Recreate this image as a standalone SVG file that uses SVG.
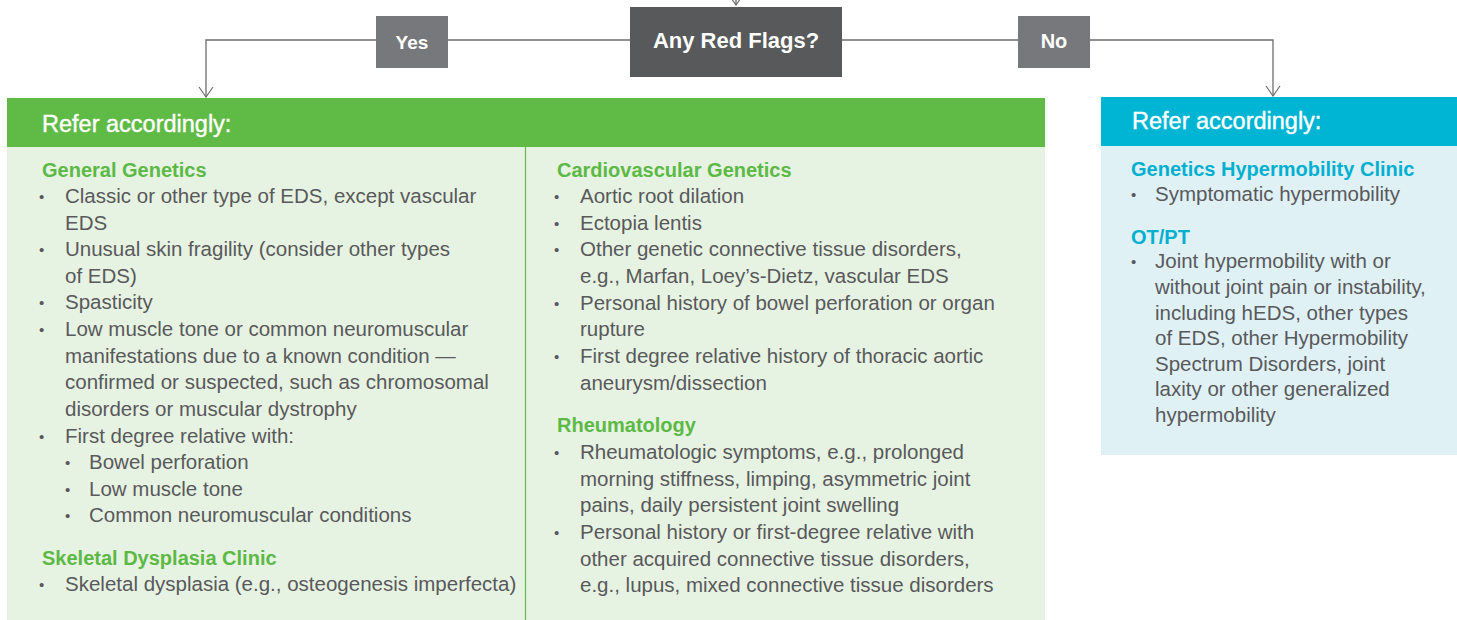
<svg xmlns="http://www.w3.org/2000/svg" width="1457" height="620" viewBox="0 0 1457 620">
<defs>
<marker id="arr" viewBox="0 0 12 16" refX="11" refY="8" markerWidth="12" markerHeight="16" markerUnits="userSpaceOnUse" orient="auto">
<path d="M1,1 L11,8 L1,15" fill="none" stroke="#6d6e71" stroke-width="1.2"/>
</marker>
<style>
.conn{fill:none;stroke:#6d6e71;stroke-width:1.3}
.t{font-family:"Liberation Sans",Arial,sans-serif;font-size:20.5px;fill:#58595b}
.b{font-size:15px}
.hg{font-family:"Liberation Sans",Arial,sans-serif;font-size:20px;font-weight:700;fill:#5cb946}
.hb{font-family:"Liberation Sans",Arial,sans-serif;font-size:20px;font-weight:700;fill:#00b0d0}
.hdr{font-family:"Liberation Sans",Arial,sans-serif;font-size:23.5px;fill:#ffffff;stroke:#ffffff;stroke-width:0.4}
.lbl{font-family:"Liberation Sans",Arial,sans-serif;font-size:21px;font-weight:700;fill:#ffffff;text-anchor:middle}
</style>
</defs>
<rect width="1457" height="620" fill="#ffffff"/>
<g id="connectors">
<path class="conn" d="M736,-6 V5" marker-end="url(#arr)"/>
<path class="conn" d="M630,40 H448"/>
<path class="conn" d="M376,40 H206 V97" marker-end="url(#arr)"/>
<path class="conn" d="M842,40 H1018"/>
<path class="conn" d="M1090,40 H1273 V96" marker-end="url(#arr)"/>
</g>
<g id="red-flags">
<rect x="630" y="7" width="212" height="70" fill="#58595b"/>
<text class="lbl" x="736" y="48" style="font-size:22px">Any Red Flags?</text>
</g>
<g id="yes">
<rect x="376" y="16" width="72" height="52" fill="#77787b"/>
<text class="lbl" x="412" y="49" style="font-size:19px">Yes</text>
</g>
<g id="no">
<rect x="1018" y="16" width="72" height="52" fill="#77787b"/>
<text class="lbl" x="1054" y="48" style="font-size:20px">No</text>
</g>
<g id="refer-yes">
<rect x="7" y="98" width="1038" height="49" fill="#5fba46"/>
<rect x="7" y="147" width="1038" height="473" fill="#e7f3e2"/>
<line x1="525.5" y1="147" x2="525.5" y2="620" stroke="#5fba46" stroke-width="1.2"/>
<text class="hdr" x="42" y="132">Refer accordingly:</text>
<g id="general-genetics">
<text class="hg" x="42" y="177">General Genetics</text>
<g class="t">
<text class="b" x="39" y="202">•</text><text x="65" y="203">Classic or other type of EDS, except vascular</text>
<text x="65" y="230">EDS</text>
<text class="b" x="39" y="255">•</text><text x="65" y="256">Unusual skin fragility (consider other types</text>
<text x="65" y="283">of EDS)</text>
<text class="b" x="39" y="308">•</text><text x="65" y="309">Spasticity</text>
<text class="b" x="39" y="335">•</text><text x="65" y="336">Low muscle tone or common neuromuscular</text>
<text x="65" y="363">manifestations due to a known condition —</text>
<text x="65" y="389">confirmed or suspected, such as chromosomal</text>
<text x="65" y="416">disorders or muscular dystrophy</text>
<text class="b" x="39" y="442">•</text><text x="65" y="443">First degree relative with:</text>
<text class="b" x="65" y="468">•</text><text x="89" y="469">Bowel perforation</text>
<text class="b" x="65" y="495">•</text><text x="89" y="496">Low muscle tone</text>
<text class="b" x="65" y="521">•</text><text x="89" y="522">Common neuromuscular conditions</text>
</g>
</g>
<g id="skeletal-dysplasia">
<text class="hg" x="42" y="565">Skeletal Dysplasia Clinic</text>
<g class="t">
<text class="b" x="39" y="590">•</text><text x="65" y="591">Skeletal dysplasia (e.g., osteogenesis imperfecta)</text>
</g>
</g>
<g id="cardiovascular-genetics">
<text class="hg" x="557" y="177">Cardiovascular Genetics</text>
<g class="t">
<text class="b" x="554" y="202">•</text><text x="580" y="203">Aortic root dilation</text>
<text class="b" x="554" y="229">•</text><text x="580" y="230">Ectopia lentis</text>
<text class="b" x="554" y="255">•</text><text x="580" y="256">Other genetic connective tissue disorders,</text>
<text x="580" y="283">e.g., Marfan, Loey’s-Dietz, vascular EDS</text>
<text class="b" x="554" y="309">•</text><text x="580" y="310">Personal history of bowel perforation or organ</text>
<text x="580" y="336">rupture</text>
<text class="b" x="554" y="362">•</text><text x="580" y="363">First degree relative history of thoracic aortic</text>
<text x="580" y="390">aneurysm/dissection</text>
</g>
</g>
<g id="rheumatology">
<text class="hg" x="557" y="432">Rheumatology</text>
<g class="t">
<text class="b" x="554" y="458">•</text><text x="580" y="459">Rheumatologic symptoms, e.g., prolonged</text>
<text x="580" y="486">morning stiffness, limping, asymmetric joint</text>
<text x="580" y="512">pains, daily persistent joint swelling</text>
<text class="b" x="554" y="538">•</text><text x="580" y="539">Personal history or first-degree relative with</text>
<text x="580" y="566">other acquired connective tissue disorders,</text>
<text x="580" y="592">e.g., lupus, mixed connective tissue disorders</text>
</g>
</g>
</g>
<g id="refer-no">
<rect x="1101" y="97" width="356" height="49" fill="#00b5d3"/>
<rect x="1101" y="146" width="356" height="309" fill="#e0f1f6"/>
<text class="hdr" x="1132" y="129">Refer accordingly:</text>
<g id="hypermobility-clinic">
<text class="hb" x="1131" y="176">Genetics Hypermobility Clinic</text>
<g class="t">
<text class="b" x="1131" y="200">•</text><text x="1155" y="201">Symptomatic hypermobility</text>
</g>
</g>
<g id="ot-pt">
<text class="hb" x="1131" y="244">OT/PT</text>
<g class="t">
<text class="b" x="1131" y="267">•</text><text x="1155" y="268">Joint hypermobility with or</text>
<text x="1155" y="294">without joint pain or instability,</text>
<text x="1155" y="320">including hEDS, other types</text>
<text x="1155" y="345">of EDS, other Hypermobility</text>
<text x="1155" y="371">Spectrum Disorders, joint</text>
<text x="1155" y="396">laxity or other generalized</text>
<text x="1155" y="422">hypermobility</text>
</g>
</g>
</g>
</svg>
